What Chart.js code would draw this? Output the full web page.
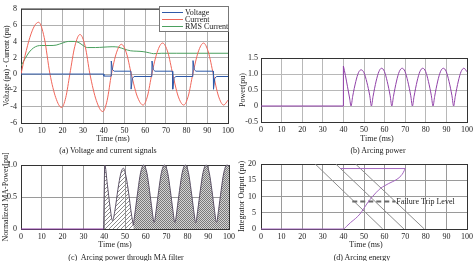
<!DOCTYPE html>
<html>
<head>
<meta charset="utf-8">
<script src="https://cdn.jsdelivr.net/npm/chart.js@4.4.1/dist/chart.umd.min.js"></script>
<style>
  body { margin: 0; background: #fff; }
  #wrap { position: relative; width: 476px; height: 261px; overflow: hidden; }
  canvas { position: absolute; }
  .lbl { position: absolute; font: 8px 'Liberation Serif', serif; line-height: 8px;
         transform: translate(-50%, -50%); white-space: nowrap; color: #222; }
</style>
</head>
<body>
<div id="wrap">
  <canvas id="chartA" width="238" height="146" style="left:0;top:0"></canvas>
  <canvas id="chartB" width="238" height="146" style="left:238px;top:0"></canvas>
  <canvas id="chartC" width="238" height="115" style="left:0;top:146px"></canvas>
  <canvas id="chartD" width="238" height="115" style="left:238px;top:146px"></canvas>
  <div class="lbl" style="left:113px;top:139px">Time (ms)</div>
  <div class="lbl" style="left:108px;top:151px">(a) Voltage and current signals</div>
  <div class="lbl" style="left:377px;top:139px">Time (ms)</div>
  <div class="lbl" style="left:378px;top:151px">(b) Arcing power</div>
  <div class="lbl" style="left:115px;top:245px">Time (ms)</div>
  <div class="lbl" style="left:126px;top:258px">(c)&nbsp; Arcing power through MA filter</div>
  <div class="lbl" style="left:366px;top:245px">Time (ms)</div>
  <div class="lbl" style="left:362px;top:258px">(d) Arcing energy</div>
</div>
<script>
// (a) voltage and current signals
const curT = [0, 2, 4.3, 6.5, 8.5, 11.2, 14, 16.8, 19.6, 21.6, 23.6, 26, 28.5, 31, 33.3, 36.4, 39.5, 41.6, 43.7, 46.1, 48.5, 50.9, 53.3, 56.1, 59, 61.1, 63.2, 65.8, 68.4, 70.9, 73.3, 75.9, 78.6, 80.8, 83, 85.6, 88.2, 90.5, 92.9, 95.4, 97.9, 100];
const curV = [0, 2.3, 4.5, 5.9, 6.35, 4.5, 0, -2.9, -4.1, -2.9, 0, 3.4, 4.85, 3.4, 0, -3.25, -4.6, -3.25, 0, 2.6, 3.65, 2.6, 0, -2.7, -3.8, -2.7, 0, 2.7, 3.8, 2.7, 0, -2.7, -3.8, -2.7, 0, 2.7, 3.8, 2.7, 0, -2.7, -3.8, -3.2];
const rmsT = [0, 2, 4, 6, 8, 10, 14, 17, 20, 23, 26, 28, 30, 32, 36, 40, 44, 47, 50, 53, 56, 59, 62, 64, 68, 75, 100];
const rmsV = [1.0, 1.9, 2.7, 3.2, 3.45, 3.5, 3.5, 3.55, 3.8, 4.0, 4.0, 3.85, 3.5, 3.25, 3.25, 3.3, 3.35, 3.3, 3.05, 2.85, 2.8, 2.75, 2.6, 2.5, 2.55, 2.55, 2.55];
const voltT = [0, 40, 40, 43.5, 43.6, 44.2, 45, 53.1, 53.2, 53.8, 54.6, 63.2, 63.3, 63.9, 64.7, 73.2, 73.3, 73.9, 74.7, 83, 83.1, 83.7, 84.5, 92.9, 93, 93.6, 94.4, 100];
const voltV = [0, 0, -0.25, -0.25, 1.6, 0.55, 0.35, 0.35, -1.85, -0.55, -0.3, -0.3, 1.6, 0.55, 0.35, 0.35, -1.85, -0.55, -0.3, -0.3, 1.65, 0.55, 0.35, 0.35, -1.85, -0.55, -0.3, -0.3];

// (b) arcing power
const powBaseT = [0, 40, 40];
const powBaseV = [0, 0, 1.25];
const powT = [40, 41, 42, 43, 43.7, 44.5, 46, 47.3, 48.6, 50, 51.4, 52.8, 53.6, 54.4, 55.9, 57.2, 58.5, 59.9, 61.3, 62.7, 63.5, 64.3, 65.8, 67.1, 68.5, 69.9, 71.3, 72.7, 73.5, 74.3, 75.8, 77.1, 78.5, 79.9, 81.3, 82.7, 83.5, 84.3, 85.8, 87.1, 88.5, 89.9, 91.3, 92.7, 93.5, 94.3, 95.8, 97.1, 98.5, 100];
const powV = [1.25, 0.95, 0.6, 0.25, 0, 0.3, 0.76, 1.04, 1.13, 1.04, 0.74, 0.32, 0, 0.3, 0.78, 1.07, 1.18, 1.08, 0.76, 0.32, 0, 0.3, 0.78, 1.07, 1.18, 1.08, 0.76, 0.32, 0, 0.3, 0.78, 1.07, 1.18, 1.08, 0.76, 0.32, 0, 0.3, 0.78, 1.07, 1.18, 1.08, 0.76, 0.32, 0, 0.3, 0.78, 1.07, 1.18, 1.07];

// (c) arcing power through MA filter
const maBaseT = [0, 39.7];
const maBaseV = [0, 0];
const maHatchT = [39.7, 40.3, 41.5, 42.8, 44, 45.2, 46.6, 48, 49.2, 50.5, 51.8, 53, 54];
const maHatchV = [0, 1.0, 0.7, 0.35, 0.13, 0.3, 0.62, 0.87, 0.95, 0.82, 0.55, 0.25, 0.06];
const maDenseT = [54, 55, 56.2, 57.5, 59, 60.5, 61.8, 63, 64, 65, 66.2, 67.5, 69, 70.5, 71.8, 73, 74, 75, 76.2, 77.5, 79, 80.5, 81.8, 83, 84, 85, 86.2, 87.5, 89, 90.5, 91.8, 93, 94, 95, 96.2, 97.5, 99, 100];
const maDenseV = [0.06, 0.3, 0.6, 0.88, 1.0, 0.88, 0.6, 0.3, 0.1, 0.3, 0.6, 0.88, 1.0, 0.88, 0.6, 0.3, 0.1, 0.3, 0.6, 0.88, 1.0, 0.88, 0.6, 0.3, 0.1, 0.3, 0.6, 0.88, 1.0, 0.88, 0.6, 0.3, 0.1, 0.3, 0.6, 0.88, 1.0, 0.98];

// (d) arcing energy
const intT = [0, 40, 41.5, 43.5, 46, 48, 50, 52, 54, 56, 58, 60, 62, 64, 66, 68, 69, 70];
const intV = [0, 0, 0.8, 2.0, 3.3, 4.6, 6.4, 8.3, 9.9, 11.3, 12.5, 13.3, 14.0, 14.6, 15.3, 16.4, 17.3, 18.6];
const intTopT = [38.5, 70];
const intTopV = [18.6, 18.6];
const rampT1 = [26.3, 59.1];
const rampT2 = [36.3, 69.4];
const rampT3 = [45.9, 79.3];
const rampV = [20, 0];
const tripT = [44.3, 65.2];
const tripV = [8.5, 8.5];
const tripLabel = 'Failure Trip Level';

const FONT = "'Liberation Serif', 'Times New Roman', serif";
const pts = (xs, ys) => xs.map((x, i) => ({ x: x, y: ys[i] }));

// plot box drawn under the lines
const framePlugin = {
  id: 'frame',
  beforeDatasetsDraw(chart) {
    const { ctx, chartArea: a } = chart;
    ctx.save();
    ctx.strokeStyle = '#333';
    ctx.lineWidth = 1;
    ctx.strokeRect(a.left + 0.5, a.top + 0.5, a.right - a.left, a.bottom - a.top);
    ctx.restore();
  }
};

// rotated y title without width squeeze
const yTitlePlugin = {
  id: 'ytitle',
  afterDraw(chart, args, opts) {
    const { ctx, chartArea: a } = chart;
    ctx.save();
    ctx.translate(opts.x, (a.top + a.bottom) / 2);
    ctx.rotate(-Math.PI / 2);
    ctx.font = opts.size + 'px ' + FONT;
    ctx.fillStyle = '#222';
    ctx.textAlign = 'center';
    ctx.textBaseline = 'middle';
    ctx.fillText(opts.text, 0, 0);
    ctx.restore();
  }
};

// boxed legend like the matlab one
const legendPlugin = {
  id: 'boxlegend',
  afterDraw(chart) {
    const ctx = chart.ctx;
    const items = chart.data.datasets.filter(d => d.label);
    ctx.save();
    ctx.fillStyle = '#fff';
    ctx.fillRect(159.5, 6.5, 69, 25);
    ctx.strokeStyle = '#777';
    ctx.lineWidth = 1;
    ctx.strokeRect(159.5, 6.5, 69, 25);
    ctx.font = '8px ' + FONT;
    ctx.textBaseline = 'middle';
    items.forEach((d, i) => {
      const y = 12.5 + i * 7;
      ctx.strokeStyle = d.borderColor;
      ctx.beginPath();
      ctx.moveTo(162, y);
      ctx.lineTo(183, y);
      ctx.stroke();
      ctx.fillStyle = '#222';
      ctx.fillText(d.label, 185, y + 0.5);
    });
    ctx.restore();
  }
};

const tripTextPlugin = {
  id: 'triptext',
  afterDatasetsDraw(chart) {
    const { ctx, scales } = chart;
    ctx.save();
    ctx.font = '8px ' + FONT;
    ctx.fillStyle = '#222';
    ctx.textBaseline = 'middle';
    ctx.fillText(tripLabel, scales.x.getPixelForValue(tripT[1]) + 1, scales.y.getPixelForValue(tripV[1]) + 0.5);
    ctx.restore();
  }
};

function makeOptions(c) {
  return {
    responsive: false,
    animation: false,
    devicePixelRatio: 1,
    layout: { padding: c.pad },
    plugins: {
      legend: { display: false },
      tooltip: { enabled: false },
      ytitle: { text: c.title, x: c.titleX, size: c.titleSize }
    },
    elements: { point: { radius: 0 }, line: { borderWidth: 1 } },
    scales: {
      x: {
        type: 'linear', min: 0, max: 100,
        ticks: { stepSize: 10, maxRotation: 0, padding: 3, color: '#222', font: { family: FONT, size: 8 } },
        grid: { color: c.grid, drawTicks: false },
        border: { display: false },
        afterFit: s => { s.height = 21; }
      },
      y: {
        min: c.min, max: c.max,
        ticks: { stepSize: c.step, padding: c.tickPad, color: '#222', font: { family: FONT, size: 8 } },
        grid: { color: c.grid, drawTicks: false },
        border: { display: false },
        afterFit: s => { s.width = c.yWidth; }
      }
    }
  };
}

// (a)
new Chart(document.getElementById('chartA'), {
  type: 'line',
  data: {
    datasets: [
      { label: 'Voltage', data: pts(voltT, voltV), borderColor: '#2f5aa8', tension: 0 },
      { label: 'Current', data: pts(curT, curV), borderColor: '#f0665a', cubicInterpolationMode: 'monotone' },
      { label: 'RMS Current', data: pts(rmsT, rmsV), borderColor: '#4ba05f', cubicInterpolationMode: 'monotone' }
    ]
  },
  options: makeOptions({
    pad: { left: 0, top: 5, right: 10, bottom: 2 }, min: -6, max: 8, step: 2, tickPad: 4, yWidth: 21,
    grid: '#b0b0b0', title: 'Voltage (pu) - Current (pu)', titleX: 7, titleSize: 7.5
  }),
  plugins: [framePlugin, yTitlePlugin, legendPlugin]
});

// (b)
new Chart(document.getElementById('chartB'), {
  type: 'line',
  data: {
    datasets: [
      { data: pts(powBaseT, powBaseV), borderColor: '#9040a8', tension: 0 },
      { data: pts(powT, powV), borderColor: '#9040a8', cubicInterpolationMode: 'monotone' }
    ]
  },
  options: makeOptions({
    pad: { left: 0, top: 58, right: 7, bottom: 3 }, min: -0.5, max: 1.5, step: 0.5, tickPad: 3, yWidth: 23,
    grid: '#b8b8b8', title: 'Power(pu)', titleX: 5, titleSize: 8
  }),
  plugins: [framePlugin, yTitlePlugin]
});

// hatch patterns for (c)
function makePattern(size, cells, ink, paper) {
  const tile = document.createElement('canvas');
  tile.width = tile.height = size;
  const g = tile.getContext('2d');
  if (paper) { g.fillStyle = paper; g.fillRect(0, 0, size, size); }
  g.fillStyle = ink;
  cells.forEach(p => g.fillRect(p[0], p[1], 1, 1));
  return g.createPattern(tile, 'repeat');
}
const diagHatch = makePattern(4, [[0, 3], [1, 2], [2, 1], [3, 0]], '#8a8a8a', null);
const crossHatch = makePattern(2, [[0, 0], [1, 1]], '#7a7a7a', '#d4d4d4');

// (c)
new Chart(document.getElementById('chartC'), {
  type: 'line',
  data: {
    datasets: [
      { data: pts(maBaseT, maBaseV), borderColor: '#9040a8', tension: 0, clip: 2 },
      { data: pts(maHatchT, maHatchV), borderColor: '#5a5064', backgroundColor: diagHatch, fill: 'origin', cubicInterpolationMode: 'monotone', clip: 2 },
      { data: pts(maDenseT, maDenseV), borderColor: '#5a5064', backgroundColor: crossHatch, fill: 'origin', cubicInterpolationMode: 'monotone', clip: 2 }
    ]
  },
  options: makeOptions({
    pad: { left: 0, top: 19, right: 9, bottom: 11 }, min: 0, max: 1, step: 0.5, tickPad: 4, yWidth: 21,
    grid: '#9a9a9a', title: 'Normalized MA-Power[pu]', titleX: 5.5, titleSize: 8
  }),
  plugins: [framePlugin, yTitlePlugin]
});

// (d)
new Chart(document.getElementById('chartD'), {
  type: 'line',
  data: {
    datasets: [
      { data: pts(intT, intV), borderColor: '#a466c0', cubicInterpolationMode: 'monotone', clip: 2 },
      { data: pts(intTopT, intTopV), borderColor: '#a466c0', tension: 0 },
      { data: pts(tripT, tripV), borderColor: '#6a6a6a', borderWidth: 2, borderDash: [5, 3], tension: 0 },
      { data: pts(rampT1, rampV), borderColor: '#8c8c8c', tension: 0 },
      { data: pts(rampT2, rampV), borderColor: '#8c8c8c', tension: 0 },
      { data: pts(rampT3, rampV), borderColor: '#8c8c8c', tension: 0 }
    ]
  },
  options: makeOptions({
    pad: { left: 0, top: 18, right: 8, bottom: 11 }, min: 0, max: 20, step: 5, tickPad: 5, yWidth: 23,
    grid: '#9a9a9a', title: 'Integrator Output (pu)', titleX: 4, titleSize: 8
  }),
  plugins: [framePlugin, yTitlePlugin, tripTextPlugin]
});
</script>
</body>
</html>
